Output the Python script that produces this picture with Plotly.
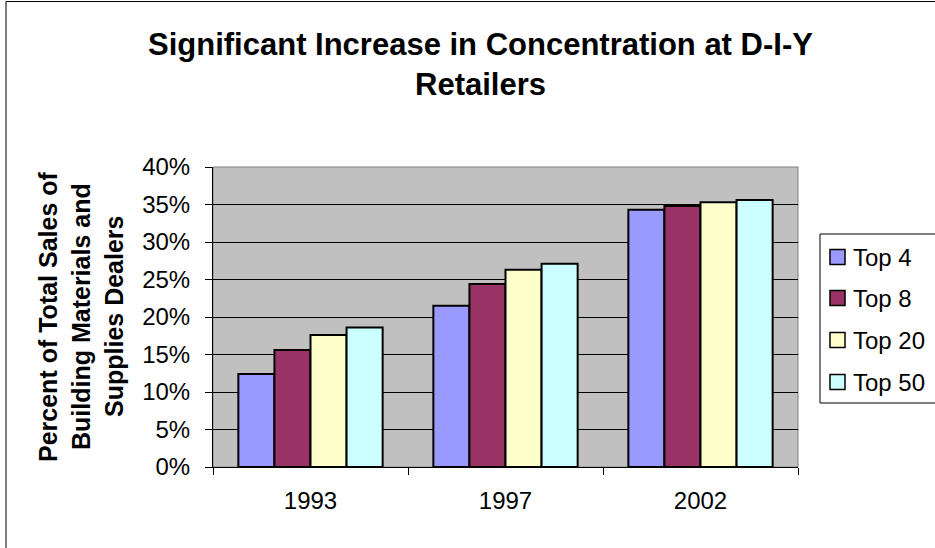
import plotly.graph_objects as go

years = ["1993", "1997", "2002"]
series_names = ["Top 4", "Top 8", "Top 20", "Top 50"]
top4 = [12.4, 21.5, 34.3]
top8 = [15.6, 24.4, 34.8]
top20 = [17.6, 26.3, 35.3]
top50 = [18.6, 27.1, 35.6]
colors = ["#9999FF", "#993366", "#FFFFCC", "#CCFFFF"]
y_ticks = [0, 5, 10, 15, 20, 25, 30, 35, 40]
y_tick_labels = [f"{v}%" for v in y_ticks]
title_lines = ["Significant Increase in Concentration at D-I-Y", "Retailers"]
y_title_lines = ["Percent of Total Sales of", "Building Materials and", "Supplies Dealers"]

FONT = "Liberation Sans, Arial, sans-serif"

fig = go.Figure()
for name, vals, col in zip(series_names, [top4, top8, top20, top50], colors):
    fig.add_trace(go.Bar(
        x=years, y=vals, name=name, showlegend=False,
        marker=dict(color=col, line=dict(color="black", width=2)),
    ))

W, H = 935, 548
L, R, T, B = 213, 137, 167, 81
pw, ph = W - L - R, H - T - B

def px_x(x):
    return (x - L) / pw

def px_y(y):
    return (H - B - y) / ph

shapes = [
    dict(type="rect", xref="paper", yref="paper", x0=0, x1=1, y0=0, y1=1,
         line=dict(color="#808080", width=1), layer="below"),
    dict(type="rect", xref="paper", yref="paper",
         x0=px_x(6), x1=px_x(945), y0=px_y(560), y1=px_y(1.5),
         line=dict(color="black", width=1)),
    # legend box
    dict(type="rect", xref="paper", yref="paper",
         x0=px_x(820), x1=px_x(945), y0=px_y(403), y1=px_y(234),
         line=dict(color="black", width=1), fillcolor="white"),
]
annotations = []

# legend entries
leg_y = [257, 298, 340, 382]
for name, col, yc in zip(series_names, colors, leg_y):
    shapes.append(dict(type="rect", xref="paper", yref="paper",
                       x0=px_x(830), x1=px_x(845), y0=px_y(yc + 7.5), y1=px_y(yc - 7.5),
                       line=dict(color="black", width=1.5), fillcolor=col))
    annotations.append(dict(xref="paper", yref="paper", x=px_x(851), y=px_y(yc),
                            xanchor="left", yanchor="middle", showarrow=False,
                            text=name, font=dict(family=FONT, size=24, color="black")))

# title lines
for txt, yc in zip(title_lines, [44, 84]):
    annotations.append(dict(xref="paper", yref="paper", x=px_x(480), y=px_y(yc),
                            xanchor="center", yanchor="middle", showarrow=False,
                            text=f"<b>{txt}</b>", font=dict(family=FONT, size=31, color="black")))

# y axis title lines
for txt, xc in zip(y_title_lines, [48, 81, 114]):
    annotations.append(dict(xref="paper", yref="paper", x=px_x(xc), y=px_y(317),
                            xanchor="center", yanchor="middle", showarrow=False, textangle=-90,
                            text=f"<b>{txt}</b>", font=dict(family=FONT, size=25, color="black")))

fig.update_layout(
    width=W, height=H,
    margin=dict(l=L, r=R, t=T, b=B),
    paper_bgcolor="white",
    plot_bgcolor="#C0C0C0",
    barmode="group",
    bargap=0.26,
    bargroupgap=0,
    showlegend=False,
    font=dict(family=FONT, color="black", size=24),
    xaxis=dict(
        type="category",
        showline=True, linecolor="black", linewidth=1,
        ticks="outside", tickson="boundaries", ticklen=7, tickcolor="black",
        tickfont=dict(family=FONT, size=24),
        ticklabelstandoff=12,
        showgrid=False,
    ),
    yaxis=dict(
        range=[0, 40],
        tickvals=y_ticks, ticktext=y_tick_labels,
        showline=True, linecolor="black", linewidth=1,
        ticks="outside", ticklen=7, tickcolor="black",
        tickfont=dict(family=FONT, size=24),
        ticklabelstandoff=10,
        showgrid=True, gridcolor="black", gridwidth=1,
        zeroline=False,
    ),
    shapes=shapes,
    annotations=annotations,
)

fig.write_html("out.html")
